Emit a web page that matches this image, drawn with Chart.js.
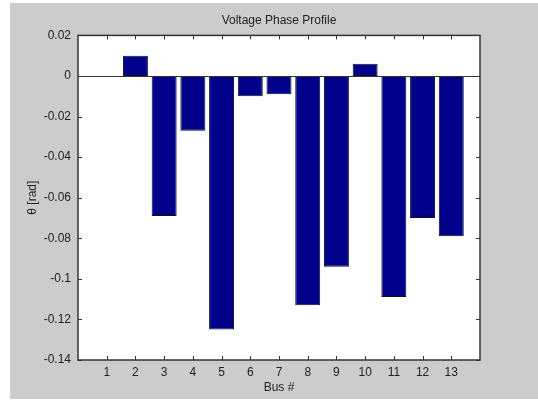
<!DOCTYPE html>
<html>
<head>
<meta charset="utf-8">
<script src="https://cdn.jsdelivr.net/npm/chart.js@4/dist/chart.umd.min.js"></script>
<style>
  html, body { margin: 0; padding: 0; background: #ffffff; }
  #wrap { position: absolute; left: 10px; top: 3px; width: 528px; height: 396px; background: #cccccc; }
</style>
</head>
<body>
<div id="wrap"><canvas id="barChart"></canvas></div>
<script>
// bus numbers and voltage phase angle (rad)
const buses = [1, 2, 3, 4, 5, 6, 7, 8, 9, 10, 11, 12, 13];
const theta = [0, 0.010, -0.069, -0.027, -0.125, -0.010, -0.009, -0.113, -0.094, 0.006, -0.109, -0.070, -0.079];
const yTicks = [0.02, 0, -0.02, -0.04, -0.06, -0.08, -0.1, -0.12, -0.14];

const fontFamily = '"Liberation Sans", Arial, sans-serif';
const textColor = '#222222';

// matlab-style frame, inward ticks and the zero baseline
const matlabAxes = {
    id: 'matlabAxes',
    afterDatasetsDraw(chart) {
        const ctx = chart.ctx;
        const area = chart.chartArea;
        const xs = chart.scales.x;
        const ys = chart.scales.y;
        const len = 4;
        ctx.save();
        ctx.strokeStyle = '#333333';
        ctx.lineWidth = 1;
        ctx.beginPath();
        const y0 = Math.round(ys.getPixelForValue(0)) + 0.5;
        ctx.moveTo(area.left, y0);
        ctx.lineTo(area.right, y0);
        buses.forEach(b => {
            const px = Math.round(xs.getPixelForValue(b)) + 0.5;
            ctx.moveTo(px, area.bottom);
            ctx.lineTo(px, area.bottom - len);
            ctx.moveTo(px, area.top);
            ctx.lineTo(px, area.top + len);
        });
        yTicks.forEach(v => {
            const py = Math.round(ys.getPixelForValue(v)) + 0.5;
            ctx.moveTo(area.left, py);
            ctx.lineTo(area.left + len, py);
            ctx.moveTo(area.right, py);
            ctx.lineTo(area.right - len, py);
        });
        ctx.stroke();
        ctx.lineWidth = 1.5;
        ctx.strokeRect(area.left, area.top, area.right - area.left, area.bottom - area.top);
        ctx.restore();
    }
};

const plotBg = {
    id: 'plotBg',
    beforeDraw(chart) {
        const a = chart.chartArea;
        chart.ctx.save();
        chart.ctx.fillStyle = '#ffffff';
        chart.ctx.fillRect(a.left, a.top, a.right - a.left, a.bottom - a.top);
        chart.ctx.restore();
    }
};

const bar_ctx = document.getElementById('barChart').getContext('2d');
const bar_data = {
    datasets: [
        {
            data: buses.map((b, i) => ({ x: b, y: theta[i] })),
            backgroundColor: '#00008b',
            borderColor: '#10102a',
            borderWidth: 1,
            borderSkipped: false,
            barPercentage: 0.87,
            categoryPercentage: 1
        }
    ]
};
const bar_config = {
    type: 'bar',
    data: bar_data,
    plugins: [plotBg, matlabAxes],
    options: {
        responsive: true,
        maintainAspectRatio: false,
        animation: false,
        layout: { padding: { left: 0, right: 58, top: 0, bottom: 0 } },
        plugins: {
            legend: { display: false },
            tooltip: { enabled: false },
            title: {
                display: true,
                fullSize: false,
                text: 'Voltage Phase Profile',
                color: textColor,
                font: { family: fontFamily, size: 12, weight: 'normal' },
                padding: { top: 10, bottom: 8 }
            }
        },
        scales: {
            x: {
                type: 'linear',
                min: 0,
                max: 14,
                offset: false,
                grid: { display: false, drawTicks: false, tickLength: 0 },
                border: { display: false },
                afterBuildTicks: s => { s.ticks = buses.map(v => ({ value: v })); },
                afterFit: s => { s.height = 39; },
                ticks: {
                    color: textColor,
                    padding: 5,
                    font: { family: fontFamily, size: 12 },
                    callback: v => String(v)
                },
                title: {
                    display: true,
                    text: 'Bus #',
                    color: textColor,
                    font: { family: fontFamily, size: 12 },
                    padding: { top: 0, bottom: 4 }
                }
            },
            y: {
                min: -0.14,
                max: 0.02,
                grid: { display: false, drawTicks: false, tickLength: 0 },
                border: { display: false },
                afterBuildTicks: s => { s.ticks = yTicks.map(v => ({ value: v })); },
                afterFit: s => { s.width = 68; },
                ticks: {
                    color: textColor,
                    padding: 7,
                    font: { family: fontFamily, size: 12 },
                    callback: v => String(Number(v.toFixed(2)))
                },
                title: {
                    display: true,
                    text: 'θ [rad]',
                    color: textColor,
                    font: { family: fontFamily, size: 12 },
                    padding: { top: 15, bottom: 0 }
                }
            }
        }
    }
};
const barChart = new Chart(bar_ctx, bar_config);
</script>
</body>
</html>
